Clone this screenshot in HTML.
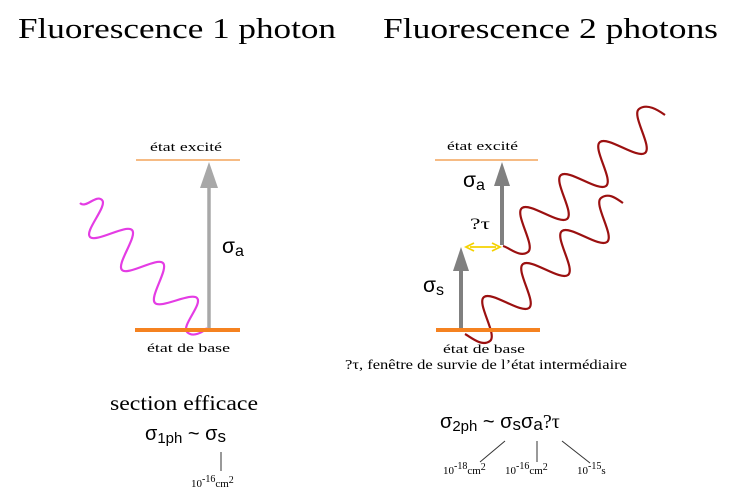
<!DOCTYPE html>
<html><head><meta charset="utf-8"><style>
body{margin:0;background:#fff}
svg{display:block}
.s{font-family:"Liberation Serif",serif}
.a{font-family:"Liberation Sans",sans-serif}
</style></head><body>
<svg width="746" height="499" viewBox="0 0 746 499" xmlns="http://www.w3.org/2000/svg">
<text x="18" y="38" class="s" font-size="29" textLength="318" lengthAdjust="spacingAndGlyphs">Fluorescence 1 photon</text>
<text x="383" y="38" class="s" font-size="29" textLength="335" lengthAdjust="spacingAndGlyphs">Fluorescence 2 photons</text>

<!-- left diagram -->
<text x="150" y="151" class="s" font-size="13" textLength="72" lengthAdjust="spacingAndGlyphs">état excité</text>
<line x1="136" y1="160" x2="240" y2="160" stroke="#f0923a" stroke-width="1.2"/>
<path fill="none" stroke="#e43ce4" stroke-width="2.2" d="M80,203 C86,209 96,194 102,200 C108,206 84,231 90,237 C96,243 126,224 132,230 C138,236 116,264 122,270 C128,276 157,257 163,263 C169,269 149,297 155,303 C161,309 191,292 197,298 C203,304 181,326 187,332 C193,338 203,332 207,328"/>
<line x1="209" y1="330" x2="209" y2="185" stroke="#a8a8a8" stroke-width="3.5"/>
<polygon points="209,162 200,188 218,188" fill="#a8a8a8"/>
<line x1="135" y1="330" x2="240" y2="330" stroke="#f58220" stroke-width="4"/>
<text x="222" y="253" class="a" font-size="21">σ<tspan font-size="16" dy="3">a</tspan></text>
<text x="147" y="352" class="s" font-size="13" textLength="83" lengthAdjust="spacingAndGlyphs">état de base</text>

<!-- right diagram -->
<text x="447" y="150" class="s" font-size="13" textLength="71" lengthAdjust="spacingAndGlyphs">état excité</text>
<line x1="435" y1="160" x2="538" y2="160" stroke="#f0923a" stroke-width="1.2"/>
<path fill="none" stroke="#9b1010" stroke-width="2.2" d="M503,246 C510,248 520,258 528,252 C536,246 514,214 522,208 C530,202 559,225 567,219 C575,213 553,181 561,175 C569,169 598,192 606,186 C614,180 592,148 600,142 C608,136 637,159 645,153 C653,147 631,115 639,109 C647,103 658,110 665,115"/>
<path fill="none" stroke="#9b1010" stroke-width="2.2" d="M465,334 C472,338 482,347 490,341 C498,335 476,303 484,297 C492,291 521,314 529,308 C537,302 515,270 523,264 C531,258 560,281 568,275 C576,269 554,237 562,231 C570,225 599,248 607,242 C615,236 593,204 601,198 C609,192 617,199 623,203"/>
<line x1="502" y1="245" x2="502" y2="183" stroke="#808080" stroke-width="4"/>
<polygon points="502,162 494,186 510,186" fill="#808080"/>
<line x1="461" y1="330" x2="461" y2="268" stroke="#808080" stroke-width="4"/>
<polygon points="461,247 453,271 469,271" fill="#808080"/>
<line x1="470" y1="247" x2="496" y2="247" stroke="#f5d200" stroke-width="1.8"/>
<polyline points="474,243 466,247 474,251" fill="none" stroke="#f5d200" stroke-width="1.8"/>
<polyline points="492,243 500,247 492,251" fill="none" stroke="#f5d200" stroke-width="1.8"/>
<text x="463" y="187" class="a" font-size="21">σ<tspan font-size="16" dy="3">a</tspan></text>
<text x="470" y="229" class="s" font-size="16" textLength="20" lengthAdjust="spacingAndGlyphs">?τ</text>
<text x="423" y="292" class="a" font-size="21">σ<tspan font-size="16" dy="3">s</tspan></text>
<line x1="436" y1="330" x2="540" y2="330" stroke="#f58220" stroke-width="4"/>
<text x="443" y="353" class="s" font-size="13" textLength="82" lengthAdjust="spacingAndGlyphs">état de base</text>
<text x="345" y="369" class="s" font-size="13.5" textLength="282" lengthAdjust="spacingAndGlyphs">?τ, fenêtre de survie de l’état intermédiaire</text>

<!-- bottom -->
<text x="110" y="410" class="s" font-size="21" textLength="148" lengthAdjust="spacingAndGlyphs">section efficace</text>
<text x="145" y="440" class="a" font-size="20">σ<tspan font-size="15" dy="3">1ph</tspan><tspan dy="-3"> ~ σ</tspan><tspan font-size="17" dy="2">s</tspan></text>
<line x1="221" y1="452" x2="221" y2="471" stroke="#333" stroke-width="1"/>
<text x="191" y="487" class="s" font-size="11">10<tspan font-size="10" dy="-5">-16</tspan><tspan dy="5">cm</tspan><tspan font-size="10" dy="-4">2</tspan></text>

<text x="440" y="428" class="a" font-size="20">σ<tspan font-size="15" dy="3">2ph</tspan><tspan dy="-3">  ~ σ</tspan><tspan font-size="17" dy="2">s</tspan><tspan dy="-2">σ</tspan><tspan font-size="17" dy="2">a</tspan><tspan class="s" dy="-2">?τ</tspan></text>
<line x1="505" y1="441" x2="480" y2="462" stroke="#333" stroke-width="1"/>
<line x1="537" y1="441" x2="537" y2="462" stroke="#333" stroke-width="1"/>
<line x1="562" y1="441" x2="590" y2="463" stroke="#333" stroke-width="1"/>
<text x="443" y="474" class="s" font-size="11">10<tspan font-size="10" dy="-5">-18</tspan><tspan dy="5">cm</tspan><tspan font-size="10" dy="-4">2</tspan></text>
<text x="505" y="474" class="s" font-size="11">10<tspan font-size="10" dy="-5">-16</tspan><tspan dy="5">cm</tspan><tspan font-size="10" dy="-4">2</tspan></text>
<text x="577" y="474" class="s" font-size="11">10<tspan font-size="10" dy="-5">-15</tspan><tspan dy="5">s</tspan></text>
</svg>
</body></html>
